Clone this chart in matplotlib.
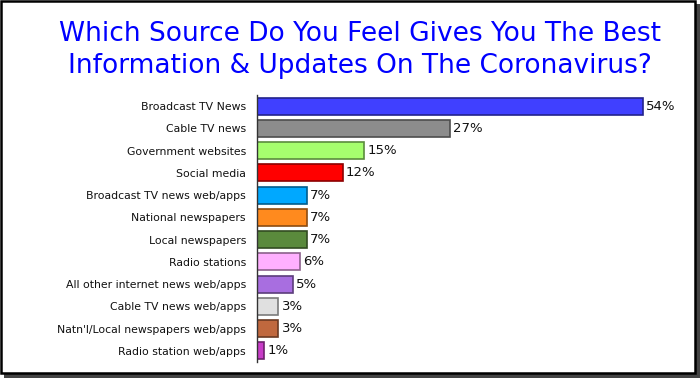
import matplotlib
matplotlib.use("Agg")
import matplotlib.pyplot as plt
import matplotlib.colors as mcolors
from matplotlib.patches import Rectangle

categories = ["Broadcast TV News", "Cable TV news", "Government websites", "Social media",
              "Broadcast TV news web/apps", "National newspapers", "Local newspapers",
              "Radio stations", "All other internet news web/apps", "Cable TV news web/apps",
              "Natn'l/Local newspapers web/apps", "Radio station web/apps"]
values = [54, 27, 15, 12, 7, 7, 7, 6, 5, 3, 3, 1]
colors = ["#4040FF", "#8C8C8C", "#A6FF6E", "#FF0000", "#00A8FF", "#FF8A1E",
          "#5A8A3C", "#FFB0FF", "#A86EE0", "#E0E0E0", "#C0683E", "#C83CC8"]
title = "Which Source Do You Feel Gives You The Best\nInformation & Updates On The Coronavirus?"

W, H = 700, 378
fig = plt.figure(figsize=(7, 3.78), dpi=100)
fig.patch.set_facecolor("white")

# frame with shadow
fig.patches.append(Rectangle((4 / W, 0), (W - 4) / W, (H - 4) / H, transform=fig.transFigure,
                             facecolor="#444444", edgecolor="none", zorder=0))
fig.patches.append(Rectangle((1 / W, 5 / H), (W - 6) / W, (H - 6) / H, transform=fig.transFigure,
                             facecolor="white", edgecolor="black", linewidth=1.8, zorder=1))

ax = fig.add_axes([257 / W, (H - 362) / H, (686 - 257) / W, (362 - 95) / H])
ax.set_zorder(2)
ax.patch.set_alpha(0)

y = list(range(len(categories)))
edges = [tuple(c * 0.55 for c in mcolors.to_rgb(col)) for col in colors]
ax.barh(y, values, height=0.77, color=colors, edgecolor=edges, linewidth=1.2, zorder=2)

for yi, v in zip(y, values):
    ax.text(v + 0.45, yi, f"{v}%", va="center", ha="left", fontsize=9.5, color="#111111")

ax.set_xlim(0, 60)
ax.set_ylim(len(categories) - 0.5, -0.5)
ax.set_yticks(y)
ax.set_yticklabels(categories, fontsize=7.8, color="#111111")
ax.tick_params(axis="y", length=0, pad=8)
ax.set_xticks([])
for s in ["top", "right", "bottom"]:
    ax.spines[s].set_visible(False)
ax.spines["left"].set_color("#333333")
ax.spines["left"].set_linewidth(1)

fig.text(360 / W, 1 - 50 / H, title, ha="center", va="center", fontsize=19,
         color="#0000FF", linespacing=1.32)

fig.savefig("out.png", dpi=100)
